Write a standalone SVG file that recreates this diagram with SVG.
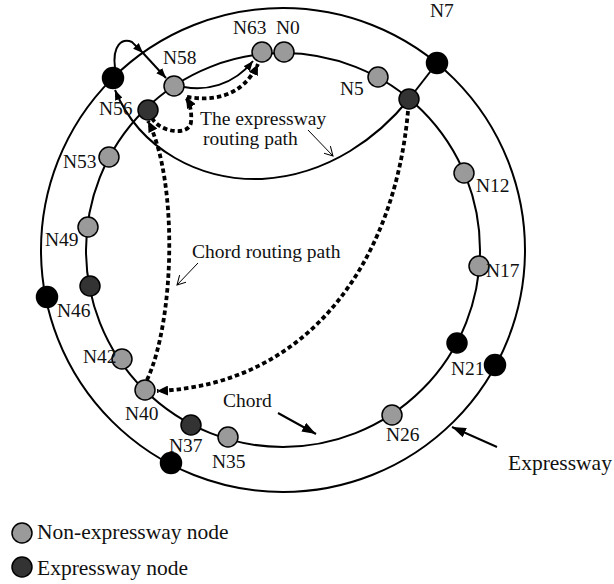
<svg xmlns="http://www.w3.org/2000/svg" width="614" height="584" viewBox="0 0 614 584">
  <style>
    .ring { fill: none; stroke: #000; stroke-width: 2; }
    .solid { fill: none; stroke: #000; stroke-width: 2; }
    .dash { fill: none; stroke: #000; stroke-width: 3.8; stroke-dasharray: 4.5 3; }
    .thin { fill: none; stroke: #000; stroke-width: 1; }
    .pointer { fill: none; stroke: #000; stroke-width: 2; }
    .gray { fill: #9a9a9a; stroke: #000; stroke-width: 1.5; }
    .dark { fill: #333; stroke: #000; stroke-width: 1.5; }
    .black { fill: #000; stroke: #000; stroke-width: 1.5; }
    text { font-family: "Liberation Serif", "Times New Roman", serif; font-size: 19.5px; fill: #111; }
    .big { font-size: 21.5px; }
  </style>
  <defs>
    <marker id="ah" viewBox="0 0 10 8" refX="10" refY="4" markerWidth="10" markerHeight="8" markerUnits="userSpaceOnUse" orient="auto">
      <path d="M0,0 L10,4 L0,8 z" fill="#000"/>
    </marker>
    <marker id="ahDash" viewBox="0 0 11 10" refX="11" refY="5" markerWidth="11" markerHeight="10" markerUnits="userSpaceOnUse" orient="auto">
      <path d="M0,0 L11,5 L0,10 z" fill="#000"/>
    </marker>
    <marker id="ahBig" viewBox="0 0 14 10" refX="14" refY="5" markerWidth="14" markerHeight="10" markerUnits="userSpaceOnUse" orient="auto">
      <path d="M0,0 L14,5 L0,10 z" fill="#000"/>
    </marker>
    <marker id="ahOpen" viewBox="0 0 10 10" refX="9" refY="5" markerWidth="10" markerHeight="10" markerUnits="userSpaceOnUse" orient="auto">
      <path d="M0,0 L9,5 L0,10" fill="none" stroke="#000" stroke-width="1"/>
    </marker>
  </defs>

  <!-- outer expressway ring and inner chord ring -->
  <g id="rings">
    <circle class="ring" cx="283" cy="250" r="242"/>
    <circle class="ring" cx="283" cy="250" r="197"/>
  </g>

  <g id="connectors">
    <!-- spoke between inner node and N7 -->
    <line class="solid" x1="409" y1="99" x2="437" y2="63"/>
    <!-- expressway routing path -->
    <path class="solid" d="M409,99 C380,135 330,175 262,179 C200,181 140,150 115,90" marker-end="url(#ah)"/>
    <path class="solid" d="M115,68 C112,45 122,38 132,42 L143,53" marker-end="url(#ah)"/>
    <path class="solid" d="M143,53 L166,78" marker-end="url(#ah)"/>
    <path class="solid" d="M184,87 C205,91 233,86 253,61" marker-end="url(#ah)"/>
    <!-- chord routing path -->
    <path class="dash" d="M408,111 C395,260 310,385 157,391" marker-end="url(#ahDash)"/>
    <path class="dash" d="M147,380 C175,320 178,180 148,121" marker-end="url(#ahDash)"/>
    <path class="dash" d="M152,118 C160,133 190,136 191,122 C192,112 190,104 186,97" marker-end="url(#ahDash)"/>
    <path class="dash" d="M187,97 C212,101 242,98 258,64" marker-end="url(#ahDash)"/>
    <!-- label pointers -->
    <line class="thin" x1="308" y1="130" x2="333" y2="156" marker-end="url(#ahOpen)"/>
    <line class="thin" x1="198" y1="263" x2="177" y2="285" marker-end="url(#ahOpen)"/>
    <line class="pointer" x1="278" y1="413" x2="316" y2="434" marker-end="url(#ahBig)"/>
    <line class="pointer" x1="497" y1="447" x2="452" y2="427" marker-end="url(#ahBig)"/>
  </g>

  <!-- nodes on the inner ring -->
  <g id="n63"><circle class="gray" cx="262" cy="52" r="10"/><text x="233" y="34">N63</text></g>
  <g id="n0"><circle class="gray" cx="284" cy="52" r="10"/><text x="276" y="34">N0</text></g>
  <g id="n5"><circle class="gray" cx="378" cy="77" r="10"/><text x="340" y="95">N5</text></g>
  <g id="n5-express"><circle class="dark" cx="409" cy="99" r="10"/></g>
  <g id="n12"><circle class="gray" cx="464" cy="173" r="10"/><text x="476" y="192">N12</text></g>
  <g id="n17"><circle class="gray" cx="479" cy="266" r="10"/><text x="486" y="277">N17</text></g>
  <g id="n21"><circle class="black" cx="457" cy="343" r="10"/><text x="451" y="375">N21</text></g>
  <g id="n26"><circle class="gray" cx="392" cy="415" r="10"/><text x="386" y="441">N26</text></g>
  <g id="n35"><circle class="gray" cx="228" cy="437" r="10"/><text x="212" y="468">N35</text></g>
  <g id="n37"><circle class="dark" cx="191" cy="425" r="10"/><text x="169" y="452">N37</text></g>
  <g id="n40"><circle class="gray" cx="145" cy="390" r="10"/><text x="125" y="420">N40</text></g>
  <g id="n42"><circle class="gray" cx="122" cy="359" r="10"/><text x="83" y="363">N42</text></g>
  <g id="n46"><circle class="dark" cx="90" cy="286" r="10"/><text x="57" y="317">N46</text></g>
  <g id="n49"><circle class="gray" cx="88" cy="227" r="10"/><text x="45" y="246">N49</text></g>
  <g id="n53"><circle class="gray" cx="109" cy="157" r="10"/><text x="63" y="168">N53</text></g>
  <g id="n56"><circle class="dark" cx="148" cy="110" r="10"/><text x="99" y="115">N56</text></g>
  <g id="n58"><circle class="gray" cx="174" cy="86" r="10"/><text x="163" y="64">N58</text></g>

  <!-- nodes on the outer expressway ring -->
  <g id="x7"><circle class="black" cx="437" cy="63" r="10.5"/><text x="430" y="17">N7</text></g>
  <g id="x21"><circle class="black" cx="495" cy="365" r="10.5"/></g>
  <g id="x37"><circle class="black" cx="171" cy="463" r="10.5"/></g>
  <g id="x46"><circle class="black" cx="47" cy="297" r="10.5"/></g>
  <g id="x56"><circle class="black" cx="113" cy="78" r="10.5"/></g>

  <!-- annotations -->
  <g id="labels">
    <text x="200" y="125">The expressway</text>
    <text x="203" y="145">routing path</text>
    <text x="192" y="258">Chord routing path</text>
    <text x="223" y="407">Chord</text>
    <text class="big" x="508" y="470">Expressway</text>
  </g>

  <!-- legend -->
  <g id="legend">
    <circle class="gray" cx="22" cy="533" r="10"/>
    <text class="big" x="37" y="539">Non-expressway node</text>
    <circle class="dark" cx="22" cy="567" r="10"/>
    <text class="big" x="37" y="575">Expressway node</text>
  </g>
</svg>
